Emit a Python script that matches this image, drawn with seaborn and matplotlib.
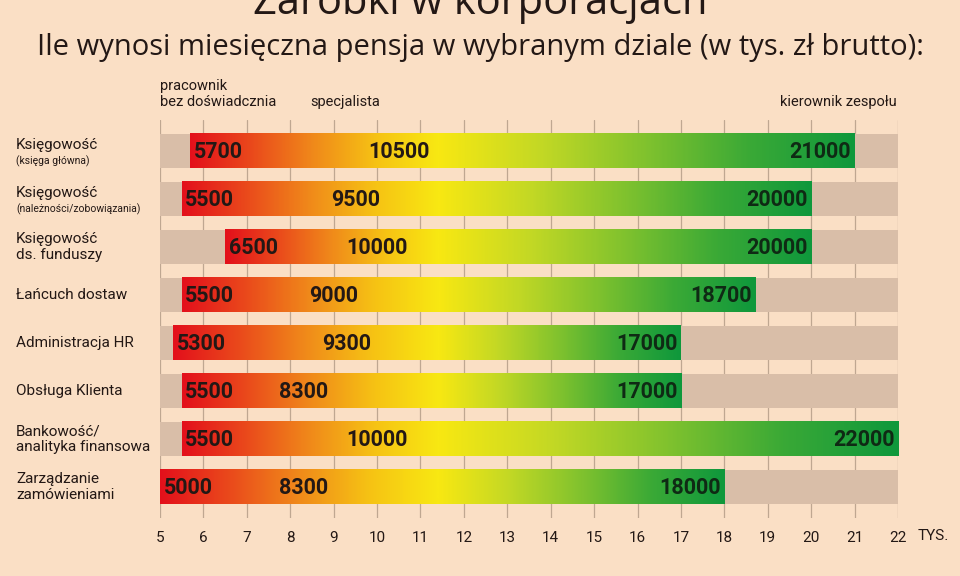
import numpy as np
import matplotlib.pyplot as plt
import seaborn as sns
from matplotlib.colors import LinearSegmentedColormap
import matplotlib.transforms as mtransforms

# Dane: zarobki w tys. zł brutto
dzialy = ["Księgowość", "Księgowość", "Księgowość\nds. funduszy", "Łańcuch dostaw",
          "Administracja HR", "Obsługa Klienta", "Bankowość/\nanalityka finansowa",
          "Zarządzanie\nzamówieniami"]
dopiski = ["(księga główna)", "(należności/zobowiązania)", "", "", "", "", "", ""]
junior = [5700, 5500, 6500, 5500, 5300, 5500, 5500, 5000]
specjalista = [10500, 9500, 10000, 9000, 9300, 8300, 10000, 8300]
kierownik = [21000, 20000, 20000, 18700, 17000, 17000, 22000, 18000]
skala_max = [22, 22, 22, 22, 22, 22, 22, 22]
ticki = list(range(5, 23))

BG = "#fadfc5"
GRAY = "#d9bea8"
GRID = "#bfa791"
TXT = "#231815"

sns.set_theme(style="white", rc={"figure.facecolor": BG, "axes.facecolor": BG})
plt.rcParams["font.family"] = ["Roboto", "DejaVu Sans"]

fig = plt.figure(figsize=(9.6, 5.76), dpi=100)
ax = fig.add_axes([160 / 960, 58 / 576, 738 / 960, 398 / 576])

# szare tło pasków (skala do 22 tys.)
sns.barplot(x=skala_max, y=list(range(len(dzialy))), orient="h", color=GRAY,
            width=0.71, ax=ax, zorder=2, saturation=1, linewidth=0)

# gradient czerwony -> żółty -> zielony
warm = LinearSegmentedColormap.from_list("warm", ["#e3101b", "#ea4a1c", "#f08a1a", "#f6c214", "#f8e812"])
green = LinearSegmentedColormap.from_list("green", ["#f8e812", "#c2d825", "#80c22e", "#3aa936", "#0f983c"])
YELLOW = 11.4

h = 0.71
for i in range(len(dzialy)):
    a = junior[i] / 1000
    b = kierownik[i] / 1000
    xs = np.linspace(a, b, 500)
    cols = np.array([warm((x - a) / (YELLOW - a))[:3] if x < YELLOW
                     else green((x - YELLOW) / (b - YELLOW))[:3] for x in xs])
    ax.imshow(cols[np.newaxis, :, :], extent=[a, b, i + h / 2, i - h / 2],
              aspect="auto", zorder=3, interpolation="bilinear")
    ax.text(a + 0.08, i + 0.03, str(junior[i]), ha="left", va="center",
            fontsize=15.5, fontweight="bold", color=TXT, zorder=4)
    ax.text(specjalista[i] / 1000, i + 0.03, str(specjalista[i]), ha="center", va="center",
            fontsize=15.5, fontweight="bold", color=TXT, zorder=4)
    ax.text(b - 0.08, i + 0.03, str(kierownik[i]), ha="right", va="center",
            fontsize=15.5, fontweight="bold", color="#0f2a14", zorder=4)

ax.set_xlim(5, 22)
ax.set_ylim(7.646, -0.646)
ax.set_xticks(ticks=ticki)
ax.set_xticklabels([str(t) for t in ticki], fontsize=11, color=TXT)
ax.tick_params(axis="x", length=0, pad=9)
ax.set_yticks([])
ax.set_ylabel("")
for t in ticki:
    ax.axvline(t, color=GRID, lw=0.9, zorder=1)
for s in ax.spines.values():
    s.set_visible(False)

fig.text(933 / 960, 1 - 536 / 576, "TYS.", ha="center", va="center",
         fontsize=11, color=TXT)

# etykiety działów
trans = mtransforms.blended_transform_factory(fig.transFigure, ax.transData)
for i, (d, p) in enumerate(zip(dzialy, dopiski)):
    if p:
        ax.text(16 / 960, i - 0.12, d, transform=trans, ha="left", va="center",
                fontsize=11, color=TXT)
        ax.text(16 / 960, i + 0.22, p, transform=trans, ha="left", va="center",
                fontsize=7.5, color=TXT)
    else:
        ax.text(16 / 960, i, d, transform=trans, ha="left", va="center",
                fontsize=11, color=TXT, linespacing=1.15)

# nagłówki poziomów
fig.text(160 / 960, 1 - 94 / 576, "pracownik\nbez doświadcznia", ha="left", va="center",
         fontsize=10.5, color=TXT, linespacing=1.15)
fig.text(310 / 960, 1 - 102 / 576, "specjalista", ha="left", va="center",
         fontsize=10.5, color=TXT)
fig.text(897 / 960, 1 - 102 / 576, "kierownik zespołu", ha="right", va="center",
         fontsize=10.5, color=TXT)

# tytuły
fig.text(0.5, 1 - 14 / 576, "Zarobki w korporacjach", ha="center", va="baseline",
         fontsize=30, color=TXT, family=["Open Sans", "DejaVu Sans"])
fig.text(0.5, 1 - 47 / 576, "Ile wynosi miesięczna pensja w wybranym dziale (w tys. zł brutto):",
         ha="center", va="center", fontsize=21, color=TXT, fontweight="medium",
         family=["Open Sans", "DejaVu Sans"])

fig.savefig("out.png", dpi=100, facecolor=BG)
